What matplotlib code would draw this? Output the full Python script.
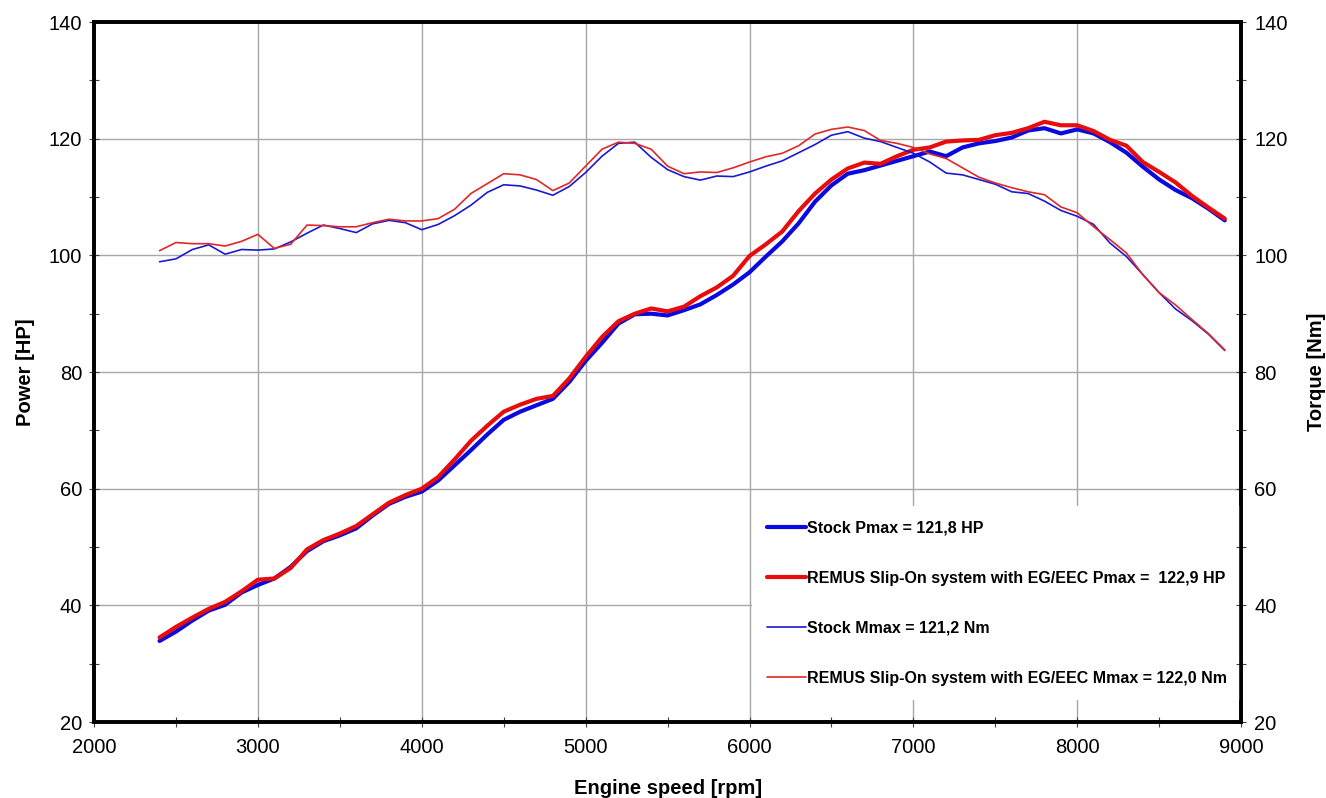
import matplotlib
matplotlib.use("Agg")
import matplotlib.pyplot as plt
from matplotlib.ticker import MultipleLocator

plt.rcParams['font.family'] = ['Liberation Sans', 'DejaVu Sans']

# engine speed grid [rpm]
rpm = list(range(2400, 9000, 100))

power_stock = [33.9, 35.5, 37.4, 39.1, 40.1, 42.2, 43.5, 44.6, 46.6, 49.3,
               51.0, 52.0, 53.2, 55.4, 57.4, 58.6, 59.5, 61.4, 64.0, 66.6,
               69.3, 71.8, 73.2, 74.3, 75.4, 78.3, 81.9, 85.0, 88.3, 89.9,
               90.0, 89.7, 90.6, 91.6, 93.2, 95.0, 97.1, 99.8, 102.4, 105.5,
               109.2, 112.0, 114.0, 114.6, 115.4, 116.2, 117.0, 117.8, 117.0, 118.5,
               119.2, 119.6, 120.2, 121.4, 121.8, 120.9, 121.6, 120.9, 119.4, 117.6,
               115.2, 113.0, 111.2, 109.8, 108.0, 106.0]

power_remus = [34.5, 36.3, 37.9, 39.4, 40.6, 42.4, 44.4, 44.6, 46.4, 49.6,
               51.2, 52.3, 53.6, 55.6, 57.6, 58.9, 60.0, 62.0, 65.0, 68.2,
               70.8, 73.2, 74.4, 75.4, 75.9, 78.9, 82.6, 86.0, 88.7, 90.0,
               90.9, 90.4, 91.2, 93.0, 94.5, 96.5, 99.9, 101.9, 104.1, 107.6,
               110.6, 113.0, 114.9, 115.9, 115.7, 117.0, 118.1, 118.5, 119.5, 119.7,
               119.8, 120.6, 121.0, 121.8, 122.9, 122.3, 122.3, 121.3, 119.8, 118.8,
               116.0, 114.3, 112.5, 110.2, 108.2, 106.3]

torque_stock = [98.9, 99.4, 101.0, 101.8, 100.2, 101.0, 100.9, 101.1, 102.3, 103.8,
                105.2, 104.6, 103.9, 105.4, 106.0, 105.6, 104.4, 105.3, 106.8, 108.6,
                110.8, 112.1, 111.9, 111.2, 110.3, 111.8, 114.2, 117.0, 119.2, 119.4,
                116.8, 114.7, 113.5, 112.9, 113.6, 113.5, 114.3, 115.3, 116.2, 117.6,
                119.0, 120.6, 121.2, 120.1, 119.5, 118.5, 117.5, 116.0, 114.1, 113.8,
                113.0, 112.2, 110.9, 110.6, 109.3, 107.7, 106.7, 105.3, 102.1, 99.8,
                96.7, 93.6, 90.8, 88.8, 86.5, 83.7]

torque_remus = [100.8, 102.2, 102.0, 102.0, 101.6, 102.4, 103.6, 101.2, 101.9, 105.2,
                105.1, 104.9, 104.9, 105.6, 106.2, 105.9, 105.9, 106.3, 107.9, 110.6,
                112.3, 114.0, 113.8, 113.0, 111.1, 112.4, 115.3, 118.2, 119.4, 119.2,
                118.2, 115.3, 114.0, 114.3, 114.2, 115.0, 116.0, 116.9, 117.5, 118.8,
                120.8, 121.6, 122.0, 121.4, 119.7, 119.2, 118.5, 117.4, 116.6, 115.0,
                113.4, 112.4, 111.6, 110.9, 110.4, 108.3, 107.3, 104.9, 102.7, 100.4,
                96.7, 93.6, 91.5, 89.0, 86.6, 83.8]

labels = ["Stock Pmax = 121,8 HP",
          "REMUS Slip-On system with EG/EEC Pmax =  122,9 HP",
          "Stock Mmax = 121,2 Nm",
          "REMUS Slip-On system with EG/EEC Mmax = 122,0 Nm"]

BLUE = "#0a0ae0"
RED = "#e80c0c"

fig = plt.figure(figsize=(13.26, 7.98), dpi=100)
ax = fig.add_axes([0.0709, 0.0952, 0.8651, 0.8772])

kw = dict(solid_joinstyle="round", solid_capstyle="round")
ax.plot(rpm, power_stock, color=BLUE, lw=3.0, label=labels[0], zorder=3, **kw)
ax.plot(rpm, power_remus, color=RED, lw=3.0, label=labels[1], zorder=3, **kw)
ax.plot(rpm, torque_stock, color="#1a1ad0", lw=1.2, label=labels[2], zorder=3, **kw)
ax.plot(rpm, torque_remus, color="#e02828", lw=1.2, label=labels[3], zorder=3, **kw)

ax.set_xlim(2000, 9000)
ax.set_ylim(20, 140)
ax.xaxis.set_major_locator(MultipleLocator(1000))
ax.xaxis.set_minor_locator(MultipleLocator(500))
ax.yaxis.set_major_locator(MultipleLocator(20))
ax.yaxis.set_minor_locator(MultipleLocator(10))
ax.grid(True, which="major", color="#a8a8a8", lw=1.0)
ax.set_axisbelow(True)

ax2 = ax.twinx()
ax2.set_ylim(20, 140)
ax2.yaxis.set_major_locator(MultipleLocator(20))
ax2.yaxis.set_minor_locator(MultipleLocator(10))

for a in (ax, ax2):
    for sp in a.spines.values():
        sp.set_linewidth(2.6)
        sp.set_color("black")
    a.tick_params(which="both", direction="inout", length=7, width=0.8,
                  labelsize=14.5, color="#404040")
ax.tick_params(axis="x", pad=8)
ax.tick_params(axis="y", pad=5)
ax2.tick_params(axis="y", pad=6)

ax.set_xlabel("Engine speed [rpm]", fontsize=14.5, fontweight="bold", labelpad=16)
ax.set_ylabel("Power [HP]", fontsize=14.5, fontweight="bold", labelpad=10)
ax2.set_ylabel("Torque [Nm]", fontsize=14.5, fontweight="bold", labelpad=14,
               rotation=90)

leg = ax.legend(loc="lower right", bbox_to_anchor=(1.0, 0.031),
                frameon=True, fancybox=False,
                facecolor="white", edgecolor="none", framealpha=1.0,
                prop=dict(size=11.5, weight="bold"), labelspacing=2.2,
                handlelength=2.45, handletextpad=0.05, borderpad=0.9,
                borderaxespad=0.0)
leg.set_zorder(5)

fig.savefig("out.png", dpi=100)
